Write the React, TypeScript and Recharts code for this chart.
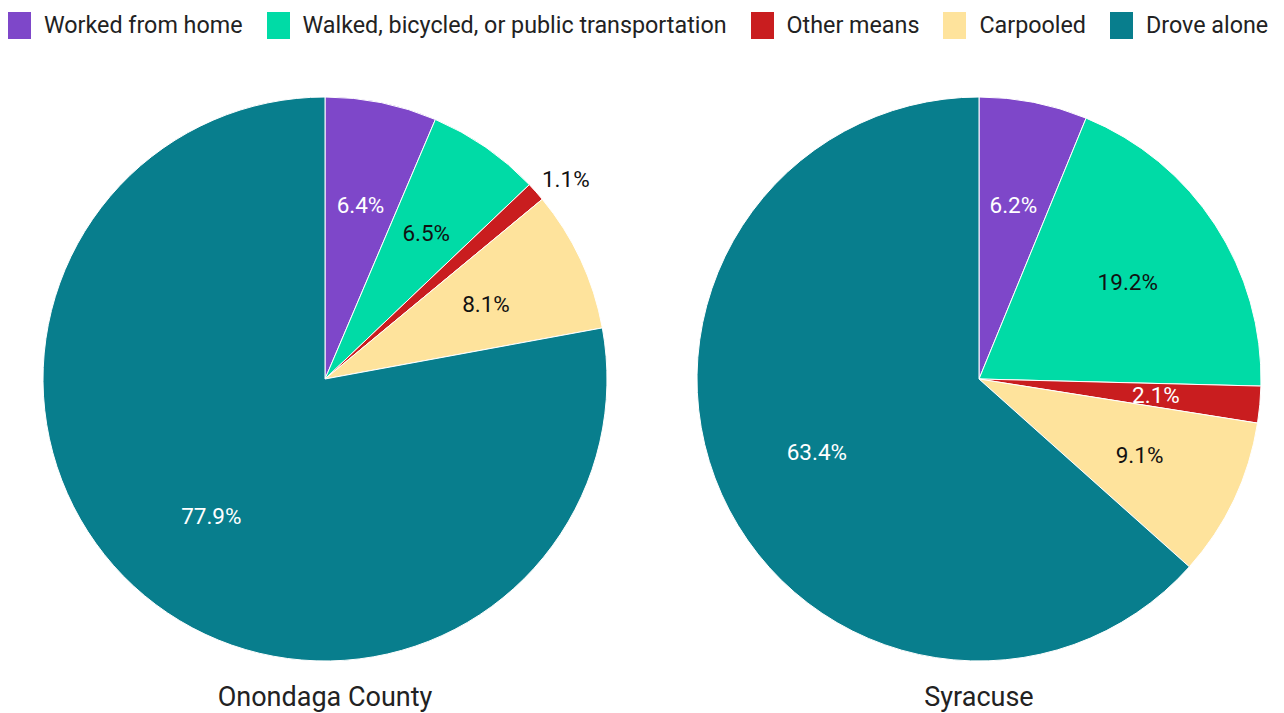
import { PieChart, Pie, Cell } from "recharts";

const categories = [
  "Worked from home",
  "Walked, bicycled, or public transportation",
  "Other means",
  "Carpooled",
  "Drove alone",
];
const onondagaValues = [6.4, 6.5, 1.1, 8.1, 77.9];
const syracuseValues = [6.2, 19.2, 2.1, 9.1, 63.4];
const regions = ["Onondaga County", "Syracuse"];

const colors = ["#7e47c9", "#00dba6", "#c91d1f", "#fee39c", "#087e8d"];
const labelColors = ["#ffffff", "#111111", "#ffffff", "#111111", "#ffffff"];

const RADIAN = Math.PI / 180;
const FONT = "Roboto, 'Noto Sans', sans-serif";

function makeData(values: number[]) {
  return categories.map((name, i) => ({ name, value: values[i] }));
}

function renderLabel(props: any) {
  const { cx, cy, midAngle, outerRadius, percent, value, index } = props;
  const outside = percent < 0.015;
  const text = `${value.toFixed(1)}%`;
  if (outside) {
    // small slices: label sits just outside the rim, anchored at its corner
    const r = outerRadius + 8;
    const x = cx + r * Math.cos(-midAngle * RADIAN);
    const y = cy + r * Math.sin(-midAngle * RADIAN);
    return (
      <text
        x={x}
        y={y}
        fill="#111111"
        textAnchor="start"
        fontSize={22.5}
        fontFamily={FONT}
      >
        {text}
      </text>
    );
  }
  const r = outerRadius * 0.63;
  const x = cx + r * Math.cos(-midAngle * RADIAN);
  const y = cy + r * Math.sin(-midAngle * RADIAN);
  return (
    <text
      x={x}
      y={y}
      fill={labelColors[index]}
      textAnchor="middle"
      dominantBaseline="central"
      fontSize={22.5}
      fontFamily={FONT}
    >
      {text}
    </text>
  );
}

const W = 1284;
const H = 713;
const centers = [325, 979];

export default function App() {
  const datasets = [makeData(onondagaValues), makeData(syracuseValues)];
  return (
    <div
      style={{
        position: "absolute",
        left: 0,
        top: 0,
        width: W,
        height: H,
        background: "#ffffff",
        fontFamily: FONT,
        color: "#222222",
      }}
    >
      <div
        style={{
          position: "absolute",
          left: 8,
          top: 11,
          display: "flex",
          alignItems: "center",
          whiteSpace: "nowrap",
        }}
      >
        {categories.map((c, i) => (
          <div
            key={c}
            style={{ display: "flex", alignItems: "center", marginRight: 24 }}
          >
            <div
              style={{
                width: 23,
                height: 27,
                background: colors[i],
                marginRight: 13,
              }}
            />
            <span style={{ fontSize: 23.3 }}>{c}</span>
          </div>
        ))}
      </div>
      <PieChart
        width={W}
        height={H}
        margin={{ top: 0, right: 0, bottom: 0, left: 0 }}
        style={{ position: "absolute", left: 0, top: 0 }}
      >
        {datasets.map((d, k) => (
          <Pie
            key={regions[k]}
            data={d}
            dataKey="value"
            nameKey="name"
            cx={centers[k]}
            cy={379}
            outerRadius={282}
            startAngle={90}
            endAngle={-270}
            stroke="#ffffff"
            strokeWidth={1}
            label={renderLabel}
            labelLine={false}
            isAnimationActive={false}
          >
            {d.map((_, i) => (
              <Cell key={i} fill={colors[i]} />
            ))}
          </Pie>
        ))}
      </PieChart>
      {regions.map((r, k) => (
        <div
          key={r}
          style={{
            position: "absolute",
            left: centers[k] - 250,
            width: 500,
            top: 678,
            textAlign: "center",
            fontSize: 27,
            lineHeight: "38px",
          }}
        >
          {r}
        </div>
      ))}
    </div>
  );
}
